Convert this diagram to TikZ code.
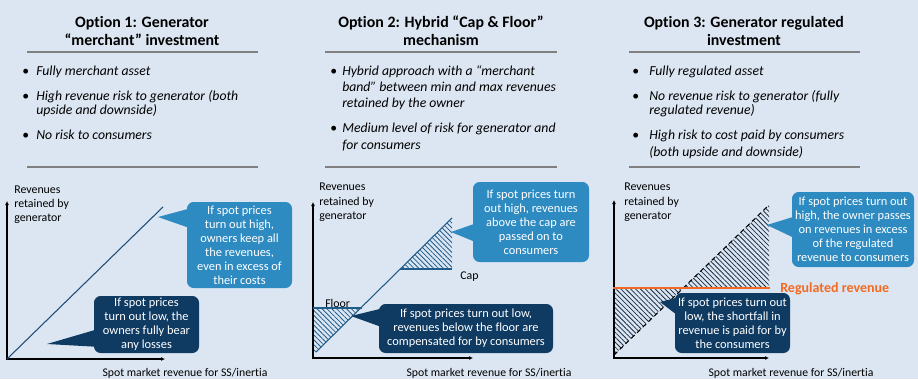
\documentclass[tikz,border=0pt]{standalone}
\usepackage{fontspec}
\setmainfont{Carlito}[Ligatures=NoCommon]
\usetikzlibrary{calc,arrows.meta,patterns.meta}
\definecolor{bgc}{HTML}{DCE6F2}
\definecolor{lightc}{HTML}{2E8BC2}
\definecolor{darkc}{HTML}{0F3A62}
\definecolor{rulec}{HTML}{808080}
\definecolor{navy}{HTML}{1F4E79}
\definecolor{steel}{HTML}{1F5C8B}
\definecolor{orng}{HTML}{F26A21}
\definecolor{hatchc}{HTML}{1A2E45}
\tikzset{
  title/.style={font=\fontsize{11.9}{14}\selectfont\bfseries, align=center, inner sep=0pt, anchor=base},
  bul/.style={font=\fontsize{10.3}{12}\selectfont, inner sep=0pt, anchor=base west},
  btxt/.style={font=\fontsize{10.3}{12}\selectfont\itshape, inner sep=0pt, anchor=base west},
  axlab/.style={font=\fontsize{8.9}{10.5}\selectfont, inner sep=0pt, anchor=base west},
  xlab/.style={font=\fontsize{8.8}{10.5}\selectfont, inner sep=0pt, anchor=base},
  rulel/.style={draw=rulec, line width=1.5pt},
  axis/.style={draw=black, line width=1.1pt, {Latex[length=3pt,width=3pt]}-{Latex[length=3pt,width=3pt]}},
  callbox/.style={rounded corners=5pt, inner sep=0pt, text=white, align=center,
     font=\fontsize{9.3}{10.5}\selectfont},
  lcall/.style={callbox, fill=lightc},
  dcall/.style={callbox, fill=darkc},
  hatch/.style={pattern={Lines[angle=-45,distance=2.6pt,line width=0.6pt]}, pattern color=#1},
}
\begin{document}
\begin{tikzpicture}[x=0.75pt,y=-0.75pt]
\fill[bgc] (0,0) rectangle (918,379);
\useasboundingbox (0,0) rectangle (918,379);

% ---------- Titles ----------
\node[title] (t1a) at (142,27) {Option 1: Generator};
\node[title] (t1b) at (142,45) {“merchant” investment};
\node[title] (t2a) at (441,27) {Option 2: Hybrid “Cap \& Floor”};
\node[title] (t2b) at (441,45) {mechanism};
\node[title] (t3a) at (744,27) {Option 3: Generator regulated};
\node[title] (t3b) at (744,45) {investment};

% ---------- Rules ----------
\draw[rulel] (27,52) -- (258,52);
\draw[rulel] (27,167) -- (258,167);
\draw[rulel] (325,52) -- (557,52);
\draw[rulel] (325,167) -- (557,167);
\draw[rulel] (629,52) -- (860,52);
\draw[rulel] (629,167) -- (860,167);

% ---------- Bullets panel 1 ----------
\node[bul] (b11) at (22,75) {•};
\node[btxt] (b11t) at (36,75) {Fully merchant asset};
\node[bul] (b12) at (22,100) {•};
\node[btxt] (b12t) at (36,100) {High revenue risk to generator (both};
\node[btxt] (b12u) at (36,114) {upside and downside)};
\node[bul] (b13) at (22,139) {•};
\node[btxt] (b13t) at (36,139) {No risk to consumers};

% ---------- Bullets panel 2 ----------
\node[bul] (b21) at (330,75) {•};
\node[btxt] (b21t) at (342,75) {Hybrid approach with a “merchant};
\node[btxt] (b21u) at (342,91) {band” between min and max revenues};
\node[btxt] (b21v) at (342,107) {retained by the owner};
\node[bul] (b22) at (330,132) {•};
\node[btxt] (b22t) at (342,132) {Medium level of risk for generator and};
\node[btxt] (b22u) at (342,149) {for consumers};

% ---------- Bullets panel 3 ----------
\node[bul] (b31) at (632,75) {•};
\node[btxt] (b31t) at (649,75) {Fully regulated asset};
\node[bul] (b32) at (632,100) {•};
\node[btxt] (b32t) at (649,100) {No revenue risk to generator (fully};
\node[btxt] (b32u) at (649,114) {regulated revenue)};
\node[bul] (b33) at (632,139) {•};
\node[btxt] (b33t) at (649,139) {High risk to cost paid by consumers};
\node[btxt] (b33u) at (649,156) {(both upside and downside)};

% ---------- Chart 1 ----------
\coordinate (o1) at (7,359);
\coordinate (y1) at (7,201);
\coordinate (x1) at (165,359);
\draw[axis] (y1) -- (o1) -- (x1);
\node[axlab] (r1a) at (14,193) {Revenues};
\node[axlab] (r1b) at (14,207) {retained by};
\node[axlab] (r1c) at (14,221) {generator};
\node[xlab] (s1) at (185,376) {Spot market revenue for SS/inertia};
\coordinate (d1e) at (163,207);
\draw[navy, line width=0.8pt] (o1) -- (d1e);
\node[lcall, minimum width=78.75pt, minimum height=64.5pt] (c11) at (239.5,245)
  {If spot prices\\turn out high,\\owners keep all\\the revenues,\\even in excess of\\their costs};
\coordinate (p11) at (158,217);
\fill[lightc] ($(c11.north west)+(2,7)$) -- (p11) -- ($(c11.north west)+(2,26)$) -- cycle;
\node[dcall, minimum width=78.75pt, minimum height=42.75pt] (c12) at (146.5,324.5)
  {If spot prices\\turn out low, the\\owners fully bear\\any losses};
\coordinate (p12) at (47,344);
\fill[darkc] ($(c12.north west)+(2,34)$) -- (p12) -- ($(c12.north west)+(2,51)$) -- cycle;

% ---------- Chart 2 ----------
\coordinate (o2) at (313,358);
\coordinate (y2) at (313,202);
\coordinate (x2) at (473,358);
\fill[hatch=steel] (314,308) -- (360,308) -- (314,354) -- cycle;
\fill[hatch=steel] (400,269) -- (452,269) -- (452,218) -- cycle;
\draw[axis] (y2) -- (o2) -- (x2);
\node[axlab] (r2a) at (319,190) {Revenues};
\node[axlab] (r2b) at (319,205) {retained by};
\node[axlab] (r2c) at (319,219) {generator};
\node[xlab] (s2) at (489,376) {Spot market revenue for SS/inertia};
\coordinate (d2s) at (316,352);
\coordinate (d2e) at (452,218);
\draw[steel, line width=0.8pt] (d2s) -- (d2e);
\coordinate (f2a) at (313,308);
\coordinate (f2b) at (362,308);
\draw[steel, line width=0.8pt] (f2a) -- (f2b);
\coordinate (k2a) at (400,269);
\coordinate (k2b) at (452,269);
\draw[steel, line width=0.8pt] (k2a) -- (k2b);
\node[axlab] (fl) at (325,307) {Floor};
\node[axlab] (cp) at (460,279) {Cap};
\node[lcall, minimum width=87pt, minimum height=60pt] (c21) at (531,222)
  {If spot prices turn\\out high, revenues\\above the cap are\\passed on to\\consumers};
\coordinate (p21) at (451,232);
\fill[lightc] ($(c21.north west)+(2,42)$) -- (p21) -- ($(c21.north west)+(2,60)$) -- cycle;
\node[dcall, minimum width=130.5pt, minimum height=36.75pt] (c22) at (466,328.5)
  {If spot prices turn out low,\\revenues below the floor are\\compensated for by consumers};
\coordinate (p22) at (351,316);
\fill[darkc] ($(c22.north west)+(2,5)$) -- (p22) -- ($(c22.north west)+(2,23)$) -- cycle;

% ---------- Chart 3 ----------
\coordinate (o3) at (614,358);
\coordinate (y3) at (614,200);
\coordinate (x3) at (769,358);
\fill[hatch=hatchc] (683,288) -- (769,288) -- (769,205) -- cycle;
\fill[hatch=hatchc] (614,288) -- (683,288) -- (614,355) -- cycle;
\draw[axis] (y3) -- (o3) -- (x3);
\node[axlab] (r3a) at (624,190) {Revenues};
\node[axlab] (r3b) at (624,205) {retained by};
\node[axlab] (r3c) at (624,219) {generator};
\node[xlab] (s3) at (791,376) {Spot market revenue for SS/inertia};
\coordinate (d3s) at (614,355);
\coordinate (d3e) at (769,205);
\draw[black, line width=0.8pt, dash pattern=on 3.5pt off 2.5pt] (d3s) -- (d3e);
\coordinate (g3a) at (613,288);
\coordinate (g3b) at (770,288);
\draw[orng, line width=2.2pt] (g3a) -- (g3b);
\node[font=\fontsize{10.5}{12}\selectfont\bfseries, text=orng, inner sep=0pt, anchor=base west] (rr) at (780,292) {Regulated revenue};
\node[lcall, minimum width=91.5pt, minimum height=56.25pt] (c31) at (853,229.5)
  {If spot prices turn out\\high, the owner passes\\on revenues in excess\\of the regulated\\revenue to consumers};
\coordinate (p31) at (767,225);
\fill[lightc] ($(c31.north west)+(2,25)$) -- (p31) -- ($(c31.north west)+(2,46)$) -- cycle;
\node[dcall, minimum width=86.25pt, minimum height=45pt] (c32) at (732.5,323)
  {If spot prices turn out\\low, the shortfall in\\revenue is paid for by\\the consumers};
\coordinate (p32) at (660,302);
\fill[darkc] ($(c32.north west)+(2,5)$) -- (p32) -- ($(c32.north west)+(2,22)$) -- cycle;
\end{tikzpicture}
\end{document}
